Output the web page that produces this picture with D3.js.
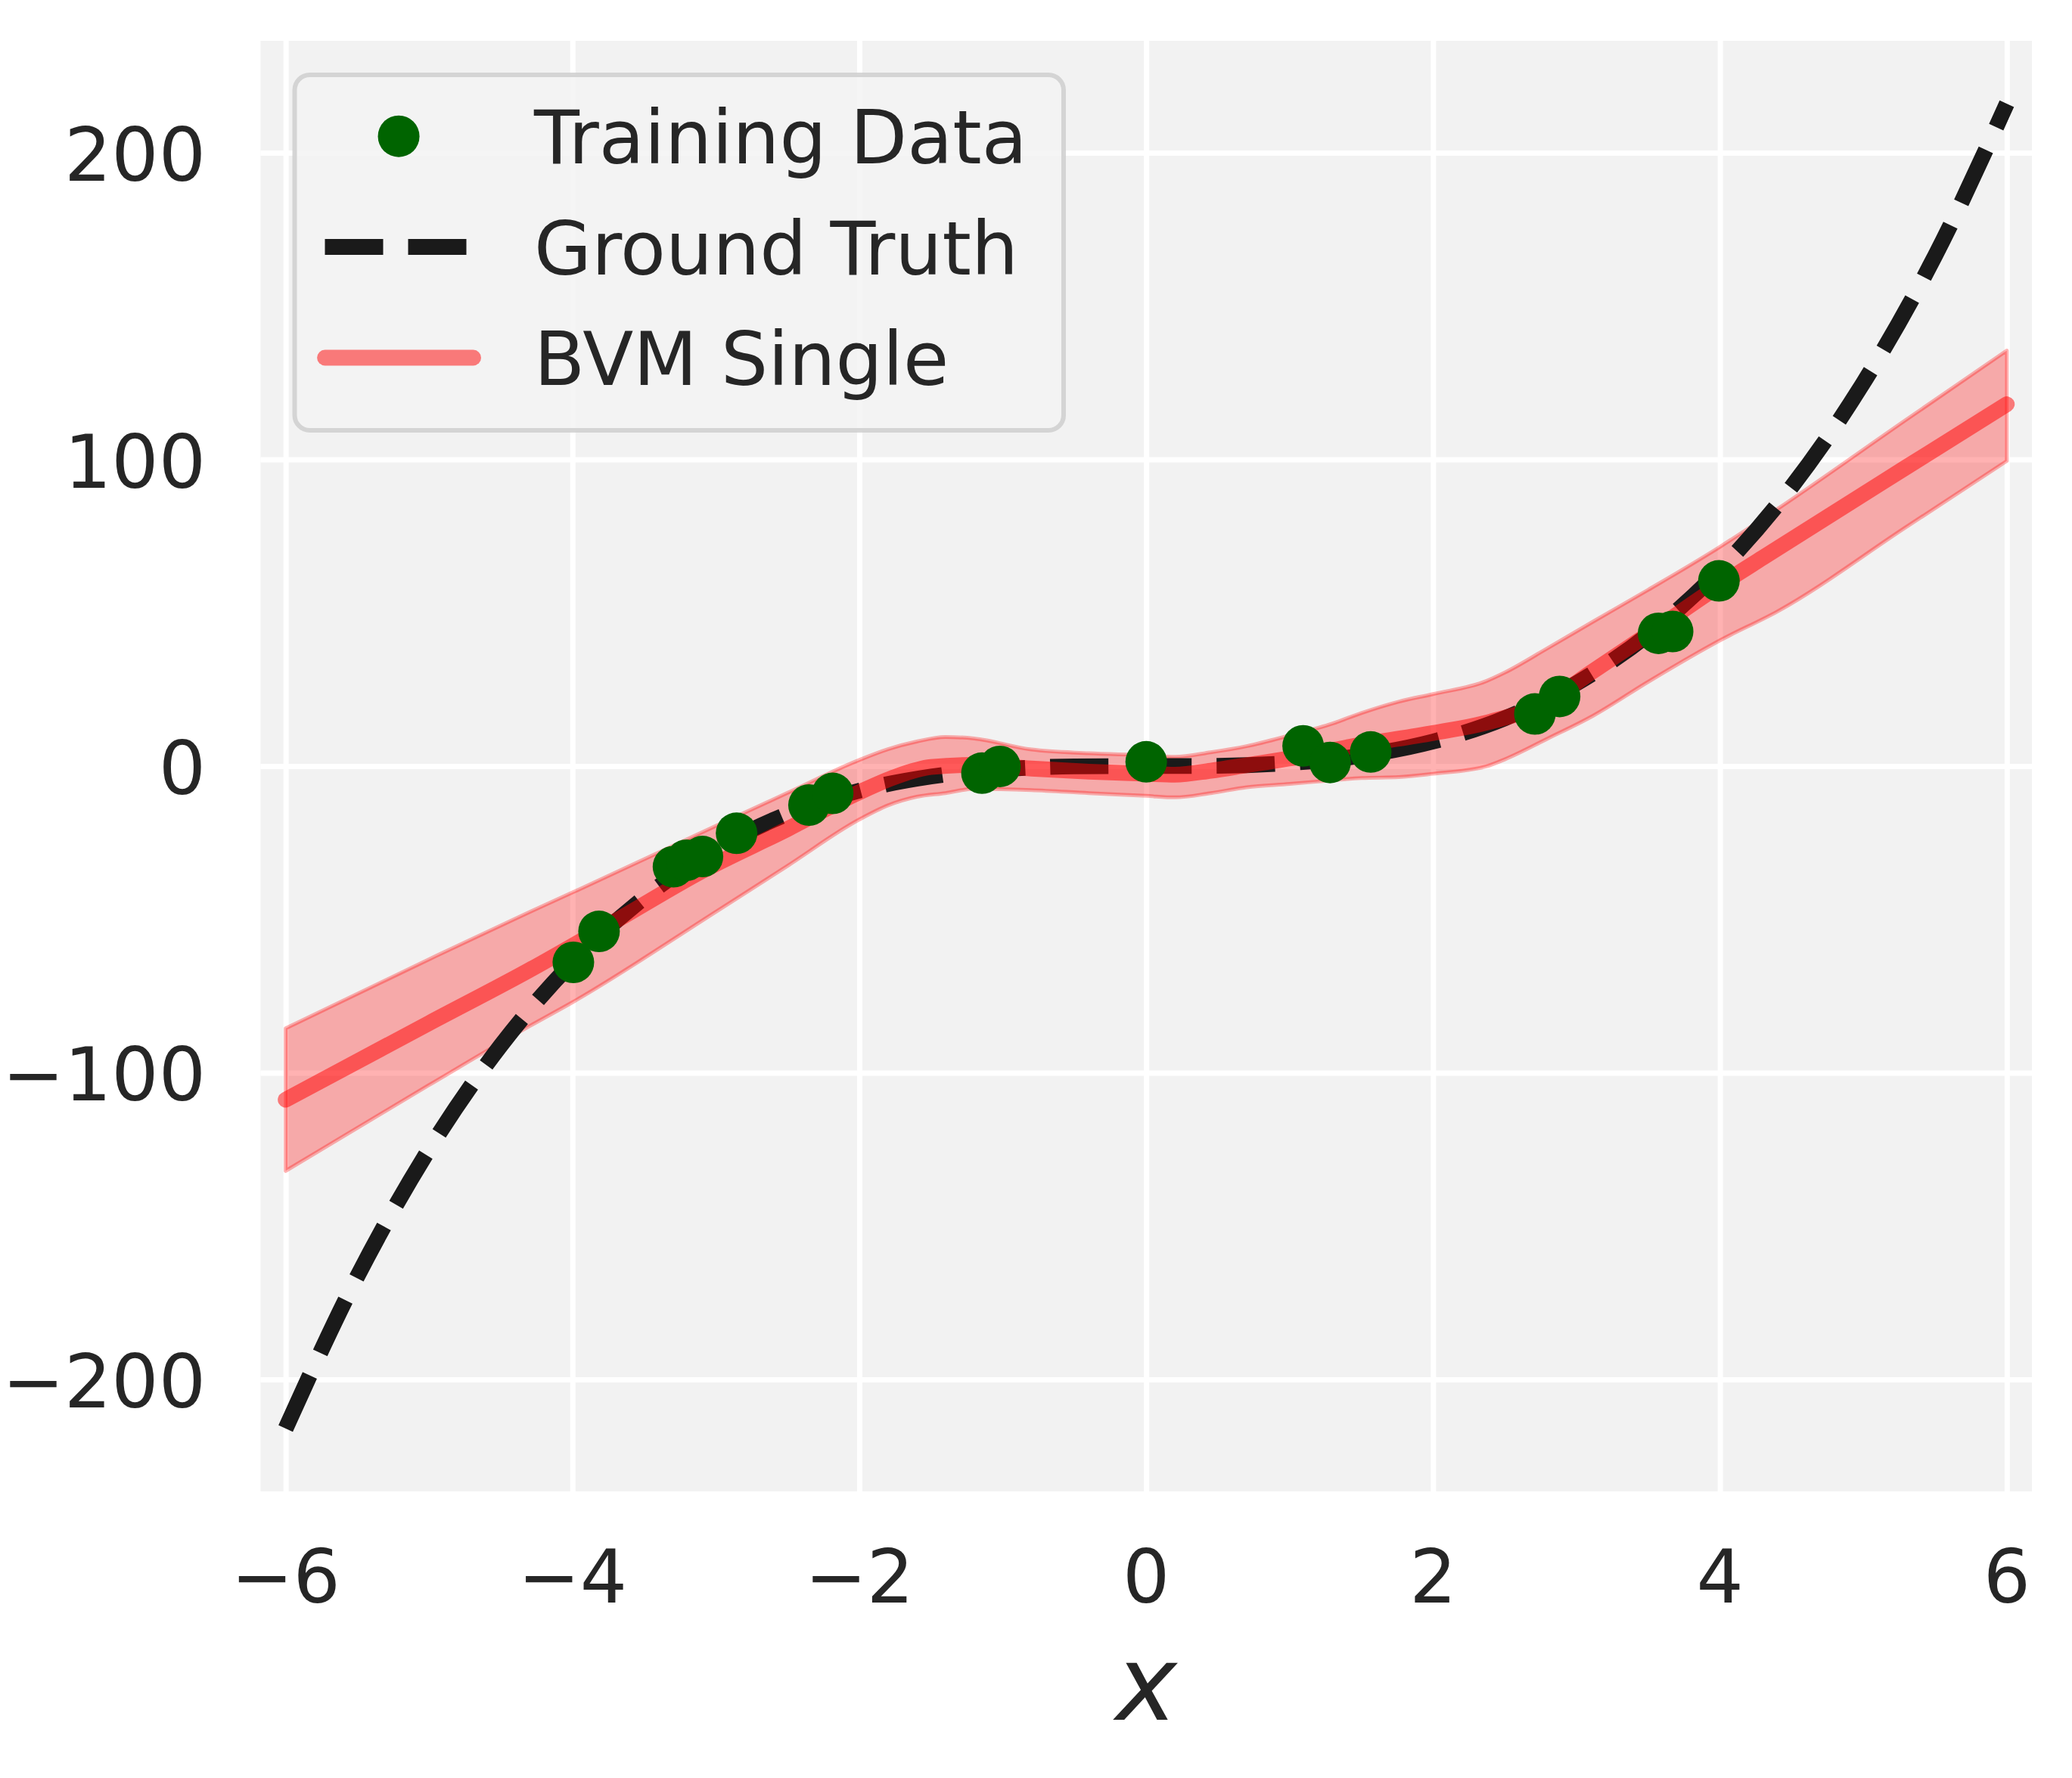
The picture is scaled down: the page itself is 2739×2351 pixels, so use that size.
<!DOCTYPE html>
<html>
<head>
<meta charset="utf-8">
<script src="https://cdn.jsdelivr.net/npm/d3@7/dist/d3.min.js"></script>
<style>
  html, body { margin: 0; padding: 0; background: #ffffff; }
  svg { display: block; }
</style>
</head>
<body>
<script>
// ---------------- data ----------------
const trainX = [-3.994, -3.815, -3.296, -3.205, -3.094, -2.856, -2.351, -2.186, -1.145, -1.02, 0.0, 1.094, 1.282, 1.565, 2.710, 2.882, 3.572, 3.670, 3.993];
const trainY = [-64.0, -53.9, -32.8, -30.7, -29.5, -21.9, -12.7, -8.9, -2.3, -0.1, 1.4, 6.6, 1.2, 4.6, 17.0, 22.7, 43.3, 43.9, 60.4];

const truthX = [-6, -5.5, -5, -4.5, -4, -3.5, -3, -2.5, -2, -1.5, -1, -0.5, 0, 0.5, 1, 1.5, 2, 2.5, 3, 3.5, 4, 4.5, 5, 5.5, 6];
const truthY = [-216, -166.4, -125, -91.1, -64, -42.9, -27, -15.6, -8, -3.4, -1, -0.1, 0, 0.1, 1, 3.4, 8, 15.6, 27, 42.9, 64, 91.1, 125, 166.4, 216];

const meanX = [-6, -5, -4.3, -3.7, -3.1, -2.5, -2.0, -1.75, -1.5, -1.2, -0.8, -0.4, 0, 0.2, 0.45, 0.7, 1.0, 1.5, 2.0, 2.4, 2.8, 3.1, 3.5, 4.0, 4.3, 5.3, 6];
const meanY = [-108.8, -83.8, -66.5, -50.5, -34.3, -20.5, -8.5, -3.5, -0.3, 0.4, -0.8, -1.8, -2.5, -2.8, -1.5, 0.3, 2.5, 7.0, 10.8, 14.5, 21.0, 30.5, 43.0, 59.0, 68.0, 97.5, 118.0];

const bandX = [-6, -5, -4.3, -4, -3, -2.5, -2.0, -1.8, -1.6, -1.4, -1.2, -0.8, -0.4, 0, 0.2, 0.45, 0.7, 1.0, 1.3, 1.5, 1.76, 2.0, 2.37, 2.5, 2.8, 3.115, 3.5, 4.0, 4.4, 5.3, 6];
const upperY = [-85.5, -63.0, -47.6, -41.2, -19.5, -8.7, 2.0, 5.5, 8.0, 9.5, 9.0, 5.4, 4.2, 3.5, 3.0, 4.5, 6.5, 10.0, 13.9, 17.3, 21.0, 23.5, 27.7, 30.5, 38.5, 47.1, 57.5, 71.5, 83.8, 113.0, 135.5];
const lowerY = [-132.0, -104.0, -84.8, -77.0, -47.5, -32.5, -17.4, -12.8, -10.0, -8.8, -7.4, -7.8, -8.8, -9.7, -10.2, -8.8, -6.9, -5.8, -4.6, -3.9, -3.6, -2.5, -0.1, 2.2, 9.0, 16.4, 27.5, 41.0, 50.4, 78.0, 99.5];

const xTicks = [-6, -4, -2, 0, 2, 4, 6];
const yTicks = [-200, -100, 0, 100, 200];
const legendLabels = ["Training Data", "Ground Truth", "BVM Single"];
const xLabel = "x";

// ---------------- layout ----------------
const W = 2739, H = 2351;
const plot = { left: 344.4, right: 2686, top: 54, bottom: 1972 };
const FS = 98;
const textColor = "#262626";

const svg = d3.select("body").append("svg")
  .attr("width", W).attr("height", H)
  .attr("viewBox", `0 0 ${W} ${H}`)
  .style("font-family", "'DejaVu Sans', sans-serif");

const x = d3.scaleLinear().domain([-6.175, 6.175]).range([plot.left, plot.right]);
const y = d3.scaleLinear().domain([-236.5, 236.5]).range([plot.bottom, plot.top]);

// background
svg.append("rect")
  .attr("x", plot.left).attr("y", plot.top)
  .attr("width", plot.right - plot.left).attr("height", plot.bottom - plot.top)
  .attr("fill", "#f2f2f2");

// grid via axes
const gx = svg.append("g")
  .attr("transform", `translate(0,${plot.bottom})`)
  .call(d3.axisBottom(x).tickValues(xTicks).tickSize(plot.bottom - plot.top).tickFormat(""));
gx.select(".domain").remove();
gx.selectAll(".tick line").attr("stroke", "#ffffff").attr("stroke-width", 7)
  .attr("y2", -(plot.bottom - plot.top));

const gy = svg.append("g")
  .attr("transform", `translate(${plot.left},0)`)
  .call(d3.axisLeft(y).tickValues(yTicks).tickSize(0).tickFormat(""));
gy.select(".domain").remove();
gy.selectAll(".tick line").attr("stroke", "#ffffff").attr("stroke-width", 7)
  .attr("x1", 0).attr("x2", plot.right - plot.left);

// tick labels
const fmt = v => (v < 0 ? "\u2212" + Math.abs(v) : String(v));
svg.append("g").selectAll("text").data(xTicks).join("text")
  .attr("x", d => x(d)).attr("y", 2119)
  .attr("text-anchor", "middle")
  .attr("font-size", FS).attr("fill", textColor)
  .text(fmt);
svg.append("g").selectAll("text").data(yTicks).join("text")
  .attr("x", 272).attr("y", d => y(d) + 37)
  .attr("text-anchor", "end")
  .attr("font-size", FS).attr("fill", textColor)
  .text(fmt);

// x label
svg.append("text")
  .attr("x", (plot.left + plot.right) / 2).attr("y", 2274)
  .attr("text-anchor", "middle")
  .attr("font-size", 137).attr("font-style", "italic")
  .attr("fill", textColor)
  .text(xLabel);

// clip
svg.append("clipPath").attr("id", "clip").append("rect")
  .attr("x", plot.left).attr("y", plot.top)
  .attr("width", plot.right - plot.left).attr("height", plot.bottom - plot.top);
const g = svg.append("g").attr("clip-path", "url(#clip)");

// band
const bandData = bandX.map((d, i) => ({ x: d, lo: lowerY[i], hi: upperY[i] }));
const area = d3.area().x(d => x(d.x)).y0(d => y(d.lo)).y1(d => y(d.hi)).curve(d3.curveMonotoneX);
g.append("path").datum(bandData)
  .attr("d", area)
  .attr("fill", "#ff0000").attr("fill-opacity", 0.3)
  .attr("stroke", "#ff0000").attr("stroke-opacity", 0.3).attr("stroke-width", 5)
  .attr("stroke-linejoin", "round");

// ground truth
const line = d3.line().x(d => x(d[0])).y(d => y(d[1])).curve(d3.curveMonotoneX);
g.append("path").datum(truthX.map((d, i) => [d, truthY[i]]))
  .attr("d", line)
  .attr("fill", "none").attr("stroke", "#1a1a1a").attr("stroke-width", 20.8)
  .attr("stroke-dasharray", "77 33").attr("stroke-linecap", "butt");

// mean
g.append("path").datum(meanX.map((d, i) => [d, meanY[i]]))
  .attr("d", line)
  .attr("fill", "none").attr("stroke", "#ff0000").attr("stroke-opacity", 0.5)
  .attr("stroke-width", 20.8).attr("stroke-linecap", "round").attr("stroke-linejoin", "round");

// training points
g.append("g").selectAll("circle").data(trainX.map((d, i) => [d, trainY[i]])).join("circle")
  .attr("cx", d => x(d[0])).attr("cy", d => y(d[1])).attr("r", 27.5)
  .attr("fill", "#006400");

// legend
const lg = svg.append("g");
lg.append("rect")
  .attr("x", 389.5).attr("y", 99).attr("width", 1016.5).attr("height", 470).attr("rx", 20)
  .attr("fill", "#f2f2f2").attr("fill-opacity", 0.8)
  .attr("stroke", "#cccccc").attr("stroke-opacity", 0.8).attr("stroke-width", 6);
const rowY = [180.2, 326.5, 473];
const h0 = 429.5, h1 = 625.6;
lg.append("circle").attr("cx", (h0 + h1) / 2 - 0.5).attr("cy", rowY[0]).attr("r", 27.5).attr("fill", "#006400");
lg.append("line").attr("x1", h0).attr("x2", h1).attr("y1", rowY[1]).attr("y2", rowY[1])
  .attr("stroke", "#1a1a1a").attr("stroke-width", 20.8).attr("stroke-dasharray", "77 33");
lg.append("line").attr("x1", h0).attr("x2", h1).attr("y1", rowY[2]).attr("y2", rowY[2])
  .attr("stroke", "#ff0000").attr("stroke-opacity", 0.5).attr("stroke-width", 20.8).attr("stroke-linecap", "round");
lg.selectAll("text.lbl").data(legendLabels).join("text")
  .attr("class", "lbl")
  .attr("x", 706).attr("y", (d, i) => rowY[i] + 36)
  .attr("font-size", FS).attr("fill", textColor)
  .text(d => d);
</script>
</body>
</html>
